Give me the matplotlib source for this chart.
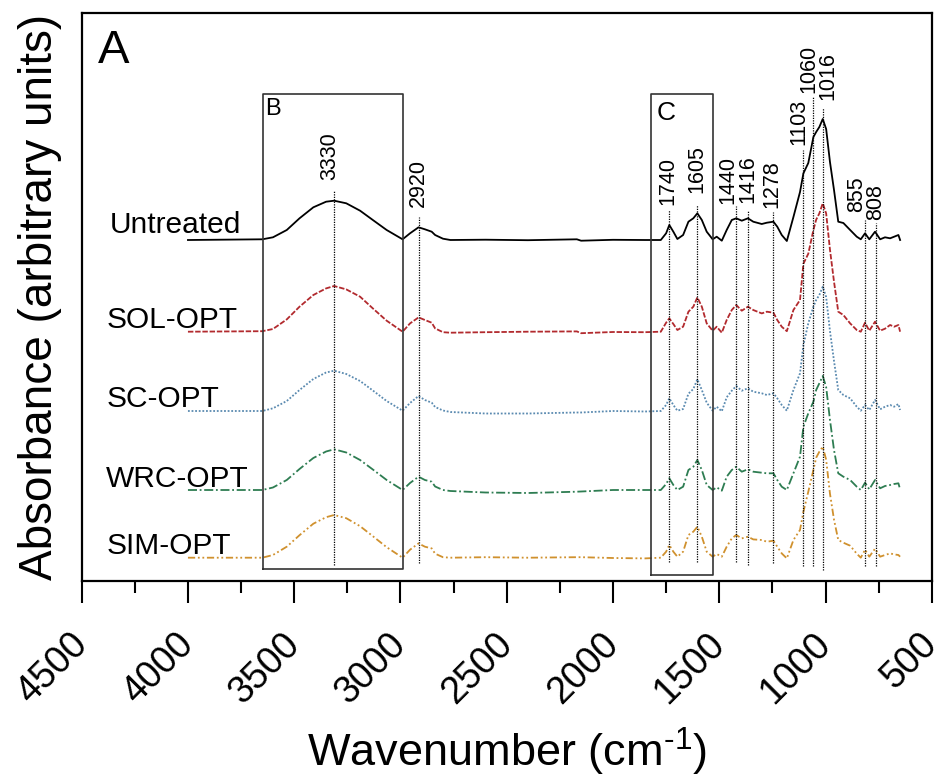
import numpy as np
import matplotlib
matplotlib.use("Agg")
import matplotlib.pyplot as plt

plt.rcParams['font.family'] = ['Liberation Sans', 'DejaVu Sans']
plt.rcParams['mathtext.fontset'] = 'custom'
plt.rcParams['mathtext.rm'] = 'Liberation Sans'

# wavenumber grid (cm-1) shared by all spectra
wavenumber = [4000, 3650, 3600, 3535, 3475, 3410, 3350, 3312, 3255, 3190, 3130, 3065,
              2990, 2955, 2915, 2885, 2853, 2837, 2800, 2765, 2600, 2400, 2170, 2150,
              2000, 1850, 1775, 1750, 1735, 1716, 1697, 1670, 1645, 1622, 1603, 1582,
              1559, 1531, 1512, 1488, 1465, 1441, 1420, 1394, 1365, 1340, 1300, 1276,
              1245, 1227, 1206, 1182, 1151, 1120, 1104, 1081, 1057, 1044, 1029, 1013,
              997, 979, 960, 940, 916, 884, 853, 834, 814, 794, 767, 743,
              720, 696, 677, 657, 649]

# absorbance above each baseline (arbitrary units)
untreated = [0, 0.7, 2.7, 10, 21.7, 32.7, 38.3, 39.3, 36.7, 29.3, 20, 10,
             0.7, 6.7, 12.7, 10.7, 8.3, 5, 1.3, 0, 0.3, -0.2, 0.7, -0.7,
             0.2, 0, 0, 6.7, 15, 8.3, 1, 5, 18.3, 21.7, 26.7, 20,
             8.3, 0.7, 3.3, -0.7, 10, 20, 21.7, 19.3, 21.7, 18.3, 16, 17.3,
             18.3, 13.3, 5, -1, 23, 48, 66.7, 77, 103, 108, 113, 121,
             111, 78, 50, 18.3, 17, 10, 3.3, 0.7, 6.7, 0.7, 8.3, 0.7,
             2.7, 1.7, 3.3, 5, 0]
sol_opt = [0, 0.5, 2.7, 12.3, 25, 36.7, 43.3, 45.7, 42.3, 35, 23.3, 11,
           0, 8.3, 14.3, 11.7, 9, 3.3, -0.5, -1, -0.5, 0, 0.3, -1.5,
           -0.3, -0.5, 0, 9, 13.3, 7.7, 1.7, 5, 20, 25, 34.3, 25,
           8.3, 1, 5, -1, 11.7, 21.7, 26.7, 21, 25, 21.7, 18.3, 20,
           19, 11.7, 5, 0.5, 21.7, 31.7, 68, 78, 101.7, 112, 118.3, 128.4,
           118.3, 82, 50, 20, 16.7, 8.3, 1.7, 0, 9, 1, 10, 1,
           3, 6.7, 5, 6.7, 0]
sc_opt = [0, 0, 2.7, 10, 21, 32, 38.5, 40.3, 37, 30, 20.5, 10,
          0.3, 8, 15, 11, 8.3, 4, 0.5, -1, -2.5, -2.5, -1.5, -1.5,
          0, -0.5, 0, 6, 12.7, 6, 0.3, 2, 17.3, 22, 31.7, 21,
          8.3, 0.3, 4.3, -0.3, 13.7, 20.3, 25, 20.3, 22.7, 19.3, 17.7, 16,
          17.7, 12.7, 6, 0.3, 21, 37.7, 66, 87.7, 104.3, 111, 116, 124.3,
          114, 80, 50, 21, 16, 12.7, 4.3, 0.3, 6, 1, 11, 1.7,
          4.3, 6, 4.3, 7, 1]
wrc_opt = [0, 0, 2.5, 10, 21, 32, 38.5, 40.7, 37.5, 30, 20.5, 10,
           0, 7, 13.3, 10, 8.3, 3.5, 0, -1, -2.5, -3, -1.7, -1.5,
           0, 0, 0, 6, 11.7, 5, 0, 3.3, 20, 23.3, 30, 20,
           5, 0, 2.7, -0.7, 13.3, 20, 23.3, 18.3, 20.7, 18.3, 17.3, 16.7,
           16.7, 10, 3.3, 0, 16.7, 33.3, 63.3, 76.7, 88.3, 100, 106.7, 114,
           103, 70, 40, 16.7, 13.3, 10, 3.3, 0, 7.3, 0.7, 10, 1.7,
           4, 5, 6, 6.7, 0.7]
sim_opt = [0, 0, 2.7, 11, 22.5, 34, 40.5, 42.7, 39.5, 31.5, 21.5, 10.5,
           0, 8, 14.3, 11, 9.3, 4, 0.5, 0, 0.5, 0, 0.5, 0.5,
           -0.3, -0.7, 0, 6, 12.7, 6, 1, 6, 22.7, 26, 31, 21,
           6, 1, 3.7, 1, 11, 19.3, 22.7, 19.3, 21, 18.3, 17.7, 16,
           17, 11, 4.3, -0.7, 17.7, 27.7, 46, 66, 87.7, 100, 106, 111,
           98, 64, 38, 17.7, 15, 12, 4, 0, 8, 1, 9, 1,
           2.7, 4.3, 3.3, 2.7, 1]

series_names = ['Untreated', 'SOL-OPT', 'SC-OPT', 'WRC-OPT', 'SIM-OPT']
series_values = [untreated, sol_opt, sc_opt, wrc_opt, sim_opt]
offsets = [340.7, 249.0, 169.7, 90.7, 23.0]
colors = ['black', '#b22a2e', '#5a8ab0', '#2e7d52', '#d0912e']
styles = ['-', (0, (3, 1)), (0, (1, 1)), (0, (5, 1.5, 1, 1.5)), (0, (4, 1.5, 1, 1.5, 1, 1.5))]
name_x = [4366, 4385, 4385, 4385, 4385]
name_y = [347.7, 252.7, 173.7, 93.7, 26.7]

# band markers: label, line position, label position, line top, label bottom, line bottom
band_labels = ['3330', '2920', '1740', '1605', '1440', '1416', '1278', '1103', '1060', '1016', '855', '808']
band_line_x = [3312, 2913, 1735, 1603, 1421, 1363, 1248, 1104, 1057, 1010, 814, 764]
band_text_x = [3331, 2917, 1741, 1604, 1460, 1366, 1251, 1126, 1078, 990, 852, 763]
band_top = [390.7, 363.7, 370.7, 375.7, 374.7, 370.7, 368.7, 430.7, 483.7, 472.7, 360.7, 357.7]
band_text_y = [400.7, 373.7, 375.7, 387.7, 376.7, 377.7, 372.7, 435.7, 487.7, 480.7, 368.7, 360.7]
band_bottom = [15.7, 17.7, 18.7, 18.7, 18.7, 15.7, 17.7, 14.7, 14.7, 10.7, 14.7, 14.7]

fig = plt.figure(figsize=(9.39, 7.78), dpi=100)
ax = fig.add_axes([0.087, 0.2536, 0.9053, 0.7293])

for name, vals, off, c, ls in zip(series_names, series_values, offsets, colors, styles):
    ax.plot(wavenumber, np.array(vals) + off, color=c, linestyle=ls, lw=1.3)

for name, xx, yy in zip(series_names, name_x, name_y):
    ax.text(xx, yy, name, fontsize=21.5, ha='left', va='baseline')

for lab, lx, tx, top, ty, bot in zip(band_labels, band_line_x, band_text_x, band_top, band_text_y, band_bottom):
    ax.plot([lx, lx], [bot, top], color='black', lw=0.9, linestyle=(0, (1, 1)))
    ax.text(tx, ty, lab, rotation=90, fontsize=15.5, ha='center', va='bottom')

# boxed regions B and C
ax.plot([3645, 2987, 2987, 3645, 3645], [11.4, 11.4, 486.7, 486.7, 11.4],
        color='#333333', lw=1.2)
ax.plot([1822, 1531, 1531, 1822, 1822], [5.7, 5.7, 486.7, 486.7, 5.7],
        color='#333333', lw=1.2)
ax.text(3637, 465.7, 'B', fontsize=17, ha='left', va='baseline')
ax.text(1793, 460.7, 'C', fontsize=19, ha='left', va='baseline')
ax.text(4423, 517.7, 'A', fontsize=34, ha='left', va='baseline')

ax.set_xlim(4500, 500)
ax.set_ylim(0, 567.4)
ax.set_xticks(np.arange(4500, 499, -500))
ax.set_xticks(np.arange(4250, 500, -500), minor=True)
ax.set_yticks([])
ax.tick_params(axis='x', which='major', length=15.8, width=1.5, direction='out', pad=26, labelsize=27)
ax.tick_params(axis='x', which='minor', length=8.6, width=1.5, direction='out')
for lbl in ax.get_xticklabels():
    lbl.set_rotation(45)
    lbl.set_rotation_mode('anchor')
    lbl.set_ha('right')
    lbl.set_va('center')
for sp in ax.spines.values():
    sp.set_linewidth(1.6)

ax.set_xlabel(r'Wavenumber (cm$^{\text{-1}}$)', fontsize=32.5, labelpad=11)
ax.set_ylabel('Absorbance (arbitrary units)', fontsize=33, labelpad=14)

fig.savefig('out.png', dpi=100)
